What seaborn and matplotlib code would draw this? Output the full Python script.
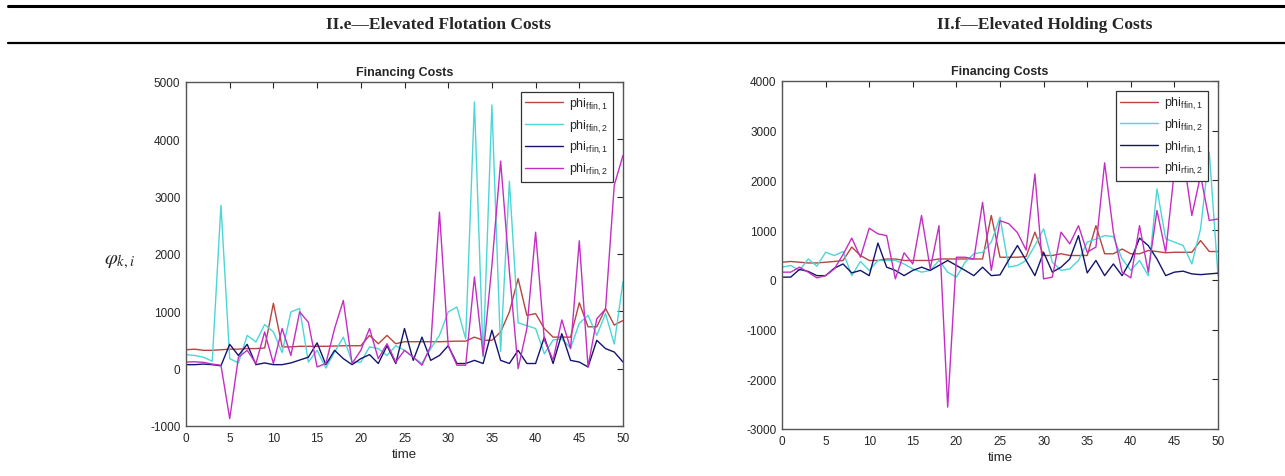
import numpy as np
import pandas as pd
import seaborn as sns
import matplotlib.pyplot as plt
from matplotlib.lines import Line2D

sns.set_style("white")
plt.rcParams['font.family'] = ['Liberation Sans', 'DejaVu Sans']
plt.rcParams['mathtext.fontset'] = 'custom'
plt.rcParams['mathtext.rm'] = 'Liberation Sans'
plt.rcParams['mathtext.it'] = 'Liberation Sans:italic'
plt.rcParams['axes.unicode_minus'] = False

time = list(range(51))
series_names = ['ffin1', 'ffin2', 'rfin1', 'rfin2']
legend_labels = [r'phi$_{\rm ffin,1}$', r'phi$_{\rm ffin,2}$',
                 r'phi$_{\rm rfin,1}$', r'phi$_{\rm rfin,2}$']
colors = ['#b8443f', '#4cd6d6', '#14146e', '#c42ec4']

# panel II.e - elevated flotation costs
red_e = [330, 340, 320, 320, 330, 340, 340, 350, 350, 360, 1140, 380, 380, 390, 390, 390, 390,
         395, 400, 400, 400, 580, 435, 580, 435, 470, 470, 470, 470, 470, 475, 480, 480, 550,
         495, 495, 640, 990, 1570, 930, 960, 700, 550, 550, 550, 1150, 730, 730, 1050, 760, 840]
cyan_e = [245, 230, 200, 130, 2850, 175, 100, 580, 465, 770, 640, 280, 990, 1050, 115, 320, 10,
          290, 550, 115, 115, 380, 350, 230, 400, 320, 200, 90, 350, 580, 990, 1075, 520, 4650,
          200, 4600, 300, 3270, 800, 750, 700, 260, 500, 520, 360, 790, 930, 580, 960, 430, 1520]
navy_e = [70, 70, 80, 70, 50, 425, 230, 425, 70, 100, 70, 70, 100, 150, 200, 450, 70,
          320, 175, 70, 175, 245, 90, 400, 90, 700, 145, 550, 145, 230, 400, 90, 90, 145,
          90, 670, 145, 90, 320, 90, 90, 550, 90, 610, 145, 115, 30, 495, 350, 290, 115]
mag_e = [115, 120, 110, 80, 60, -870, 200, 320, 90, 640, 90, 700, 230, 990, 810, 30, 90,
         700, 1190, 90, 320, 700, 175, 435, 115, 320, 200, 60, 400, 2730, 400, 60, 60, 1600,
         230, 1800, 3620, 1700, 0, 700, 2380, 500, 150, 850, 350, 2230, 30, 870, 1040, 3200, 3720]

# panel II.f - elevated holding costs
red_f = [355, 370, 355, 340, 340, 355, 370, 390, 660, 490, 390, 390, 420, 420, 390, 390, 390,
         390, 420, 420, 420, 420, 420, 420, 1295, 455, 455, 455, 470, 960, 490, 490, 525, 490,
         490, 490, 1090, 525, 525, 620, 525, 525, 590, 570, 545, 555, 555, 555, 790, 570, 570]
cyan_f = [255, 290, 190, 420, 275, 555, 490, 570, 85, 370, 190, 390, 390, 390, 320, 220, 155,
          190, 390, 155, 55, 355, 525, 555, 760, 1260, 255, 290, 390, 690, 1025, 355, 190, 220,
          390, 760, 820, 890, 870, 420, 190, 390, 85, 1830, 825, 760, 690, 320, 1025, 2570, 85]
navy_f = [55, 55, 210, 170, 85, 85, 235, 320, 140, 190, 85, 740, 255, 190, 85, 190, 255,
          190, 290, 390, 290, 190, 85, 255, 85, 100, 400, 690, 390, 85, 555, 155, 255, 420,
          890, 140, 390, 85, 320, 85, 390, 840, 690, 420, 85, 155, 175, 120, 105, 120, 135]
mag_f = [155, 155, 255, 155, 40, 85, 220, 510, 840, 455, 1040, 925, 890, 20, 545, 320, 1295,
         220, 1090, -2560, 455, 455, 420, 1560, 190, 1190, 1130, 950, 600, 2130, 20, 55, 960, 725,
         1090, 555, 660, 2355, 960, 155, 40, 1090, 155, 1395, 555, 2200, 2500, 1295, 2100, 1195, 1225]


def make_df(vals):
    frames = []
    for name, v in zip(series_names, vals):
        frames.append(pd.DataFrame({'time': time, 'value': v, 'series': name}))
    return pd.concat(frames, ignore_index=True)


fig = plt.figure(figsize=(12.85, 4.77), dpi=100)

# header rules and titles
fig.add_artist(Line2D([0.006, 1.0], [1 - 7 / 477, 1 - 7 / 477], color='black', lw=2.2))
fig.add_artist(Line2D([0.006, 1.0], [1 - 44 / 477, 1 - 44 / 477], color='black', lw=1.6))
fig.text(438 / 1285, 1 - 25 / 477, 'II.e\u2014Elevated Flotation Costs', ha='center', va='center',
         fontsize=12.5, fontweight='bold', family=['Liberation Serif', 'DejaVu Serif'])
fig.text(1045 / 1285, 1 - 25 / 477, 'II.f\u2014Elevated Holding Costs', ha='center', va='center',
         fontsize=12.5, fontweight='bold', family=['Liberation Serif', 'DejaVu Serif'])
fig.text(120 / 1285, 1 - 262 / 477, r'$\varphi_{k,i}$', ha='center', va='center',
         fontsize=15, math_fontfamily='stix')

panels = [
    ([186 / 1285, 1 - 427 / 477, 437 / 1285, 344 / 477], [red_e, cyan_e, navy_e, mag_e], (-1000, 5000)),
    ([782 / 1285, 1 - 430 / 477, 436 / 1285, 348 / 477], [red_f, cyan_f, navy_f, mag_f], (-3000, 4000)),
]

for rect, vals, ylim in panels:
    ax = fig.add_axes(rect)
    df = make_df(vals)
    sns.lineplot(data=df, x='time', y='value', hue='series', palette=colors,
                 linewidth=1.0, ax=ax, legend=False)
    ax.set_xlim(0, 50)
    ax.set_ylim(*ylim)
    ax.set_xticks(np.arange(0, 51, 5))
    ax.set_yticks(np.arange(ylim[0], ylim[1] + 1, 1000))
    ax.set_xlabel('time', fontsize=9.5, color='#262626', labelpad=3)
    ax.set_ylabel('')
    ax.set_title('Financing Costs', fontsize=9, fontweight='bold', pad=5)
    ax.tick_params(direction='in', length=4, width=0.8, top=True, right=True,
                   labelsize=8.5, colors='#262626', pad=4)
    for s in ax.spines.values():
        s.set_color('#555555')
        s.set_linewidth(1.0)
    handles = [Line2D([], [], color=c, lw=1.0) for c in colors]
    leg = ax.legend(handles, legend_labels, loc='upper right', bbox_to_anchor=(0.977, 0.972),
                    borderaxespad=0, fontsize=9, frameon=True, fancybox=False, framealpha=1,
                    handlelength=3.0, handletextpad=0.5, labelspacing=0.45, borderpad=0.35)
    leg.get_frame().set_edgecolor('#333333')
    leg.get_frame().set_linewidth(0.9)

fig.savefig('out.png', dpi=100)
